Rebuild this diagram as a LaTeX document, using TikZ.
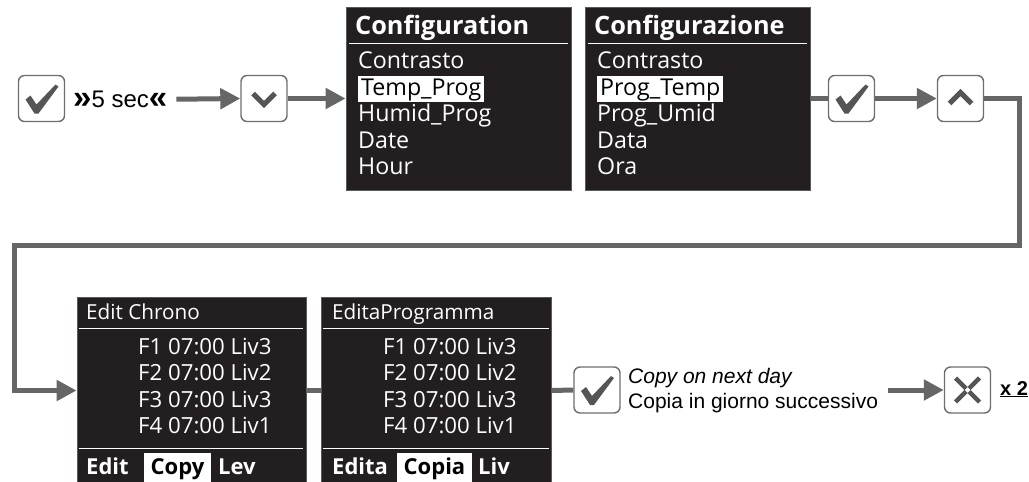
\documentclass[tikz,border=0pt]{standalone}
\usepackage{fontspec}
\setmainfont{Liberation Sans}
\newfontfamily\lcd{Open Sans}
\usetikzlibrary{arrows.meta}

\definecolor{wire}{HTML}{666666}
\definecolor{keyedge}{HTML}{6E6E6E}
\definecolor{glyphgray}{HTML}{555555}
\definecolor{screen}{HTML}{231F20}
\definecolor{screenedge}{HTML}{5A5A5A}

\tikzset{
  wire/.style={draw=wire, line width=5pt},
  arr/.style={wire, -{Triangle[length=20pt,width=20pt]}},
  key/.style={draw=keyedge, line width=1.4pt, rounded corners=6pt,
    minimum size=46pt, inner sep=0pt, fill=white},
  lcdbox/.style={fill=screen, draw=screenedge, line width=0.8pt, inner sep=0pt},
  lcdrule/.style={draw=white, line width=1pt},
  lcdtitle/.style={anchor=base west, inner sep=0pt, text=white,
    font=\lcd\bfseries\fontsize{25.3}{28}\selectfont},
  lcditem/.style={anchor=base west, inner sep=0pt, text=white,
    font=\lcd\fontsize{23.2}{26}\selectfont},
  lcdrow/.style={anchor=base west, inner sep=0pt, text=white,
    font=\lcd\fontsize{22.2}{26}\selectfont},
  lcdhead/.style={anchor=base west, inner sep=0pt, text=white,
    font=\lcd\fontsize{20.7}{24}\selectfont},
  lcdsoft/.style={anchor=base west, inner sep=0pt, text=white,
    font=\lcd\bfseries\fontsize{22}{26}\selectfont},
  sel/.style={fill=white, text=black, inner ysep=0pt, inner xsep=3pt,
    text height=19pt, text depth=7pt},
  selsoft/.style={fill=white, text=black, inner ysep=0pt, inner xsep=6.5pt,
    text height=21pt, text depth=9pt},
  glyph/.style={draw=glyphgray, line width=5pt},
  note/.style={anchor=base west, inner sep=0pt, font=\fontsize{21}{24}\selectfont},
}

\begin{document}
\begin{tikzpicture}[x=1pt,y=-1pt]
\useasboundingbox (0,0) rectangle (1029,482);

% ---------- top row: keys ----------
\node[key] (b1) at (41.5,98.5) {};
\node[anchor=base west, inner sep=0pt, font=\fontsize{24}{26}\selectfont] (lbl) at (73,107)
  {\raisebox{-1pt}{\fontsize{33}{33}\selectfont\bfseries »}5 sec\raisebox{-1pt}{\fontsize{33}{33}\selectfont\bfseries «}};
\node[key] (b2) at (264,98.5) {};
\node[key] (b3) at (851.5,98.5) {};
\node[key] (b4) at (960.5,98.5) {};

% ---------- configuration screens ----------
\node[lcdbox, minimum width=225pt, minimum height=183pt] (cfgen) at (458.5,98.5) {};
\node[lcdtitle] (cfgenT) at (355,34) {Configuration};
\draw[lcdrule] (349,43) -- (568,43);
\node[lcditem] (cfgen1) at (358,68) {Contrasto};
\node[lcditem, sel] (cfgen2) at (358,95) {Temp\_Prog};
\node[lcditem] (cfgen3) at (358,121) {Humid\_Prog};
\node[lcditem] (cfgen4) at (358,148) {Date};
\node[lcditem] (cfgen5) at (358,174) {Hour};

\node[lcdbox, minimum width=225pt, minimum height=183pt] (cfit) at (697.5,98.5) {};
\node[lcdtitle] (cfitT) at (594,34) {Configurazione};
\draw[lcdrule] (588,43) -- (807,43);
\node[lcditem] (cfit1) at (597,68) {Contrasto};
\node[lcditem, sel] (cfit2) at (597,95) {Prog\_Temp};
\node[lcditem] (cfit3) at (597,121) {Prog\_Umid};
\node[lcditem] (cfit4) at (597,148) {Data};
\node[lcditem] (cfit5) at (597,174) {Ora};

% ---------- chrono screens ----------
\node[lcdbox, minimum width=229pt, minimum height=187pt] (echr) at (191.5,390.5) {};
\node[lcdhead] (echrT) at (86,319) {Edit Chrono};
\draw[lcdrule] (79,328) -- (303,328);
\node[lcdrow] (echr1) at (138,354) {F1 07:00 Liv3};
\node[lcdrow] (echr2) at (138,380) {F2 07:00 Liv2};
\node[lcdrow] (echr3) at (138,407) {F3 07:00 Liv3};
\node[lcdrow] (echr4) at (138,433) {F4 07:00 Liv1};
\draw[lcdrule] (79,448) -- (303,448);
\node[lcdsoft] (echrA) at (86,474) {Edit};
\node[lcdsoft, selsoft] (echrB) at (144,474) {Copy};
\node[lcdsoft] (echrC) at (218,474) {Lev};

\node[lcdbox, minimum width=230pt, minimum height=187pt] (edit) at (436,390.5) {};
\node[lcdhead] (editT) at (332,319) {EditaProgramma};
\draw[lcdrule] (323,328) -- (549,328);
\node[lcdrow] (edit1) at (383,354) {F1 07:00 Liv3};
\node[lcdrow] (edit2) at (383,380) {F2 07:00 Liv2};
\node[lcdrow] (edit3) at (383,407) {F3 07:00 Liv3};
\node[lcdrow] (edit4) at (383,433) {F4 07:00 Liv1};
\draw[lcdrule] (323,448) -- (549,448);
\node[lcdsoft] (editA) at (332,474) {Edita};
\node[lcdsoft, selsoft] (editB) at (397,474) {Copia};
\node[lcdsoft] (editC) at (478,474) {Liv};

% ---------- bottom row ----------
\node[key] (b5) at (597,390) {};
\node[note, font=\itshape\fontsize{21}{24}\selectfont] (copyen) at (628,383) {Copy on next day};
\node[note] (copyit) at (628,408) {Copia in giorno successivo};
\coordinate (a5) at (888,390);
\node[key] (b6) at (967.5,390) {};
\node[anchor=base west, inner sep=0pt, font=\bfseries\fontsize{20}{24}\selectfont] (times)
  at (1000,395) {\underline{x 2}};

% ---------- connectors ----------
\draw[arr] ([xshift=9pt]lbl.east) -- (b2.west);
\draw[arr] (b2.east) -- (cfgen.west);
\draw[wire] (cfit.east) -- (b3.west);
\draw[arr] (b3.east) -- (b4.west);
\coordinate (c1) at (1019,245);
\coordinate (c2) at (14.5,245);
\draw[arr] (b4.east) -| (c1) -- (c2) |- (echr.west);
\draw[wire] (echr.east) -- (edit.west);
\draw[wire] (edit.east) -- (b5.west);
\draw[arr] (a5) -- (b6.west);

% ---------- key glyphs ----------
\foreach \k in {b1,b3,b5}{
  \begin{scope}[shift={(\k.center)}]
    \fill[glyphgray] (-16,1) -- (-11,-3) -- (-5,6) -- (14,-14) -- (17,-12)
      -- (-3,15) -- (-7,15) -- cycle;
  \end{scope}
}
\begin{scope}[shift={(b2.center)}]
  \draw[glyph, miter limit=10] (-11,-5) -- (0,6) -- (11,-5);
\end{scope}
\begin{scope}[shift={(b4.center)}]
  \draw[glyph, miter limit=10] (-11,5) -- (0,-6) -- (11,5);
\end{scope}
\begin{scope}[shift={(b6.center)}]
  \draw[glyph, line width=4.5pt] (-1.5,-1.5) -- (-12,-12) (1.5,-1.5) -- (12,-12)
    (-1.5,1.5) -- (-12,12) (1.5,1.5) -- (12,12);
\end{scope}
\end{tikzpicture}
\end{document}
